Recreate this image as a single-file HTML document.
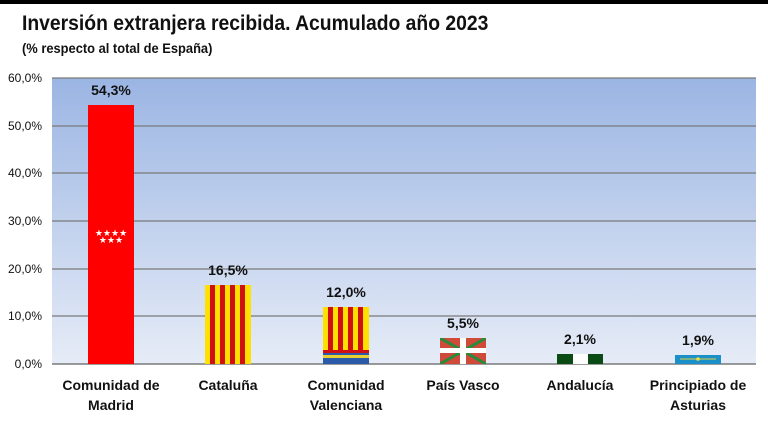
<!DOCTYPE html>
<html><head><meta charset="utf-8"><style>
body{margin:0;width:768px;height:432px;background:#fff;overflow:hidden;font-family:"Liberation Sans",sans-serif;position:relative}
.t{position:absolute;left:22px;top:12px;font-size:21px;font-weight:bold;color:#111;transform:scaleX(0.92);transform-origin:0 0;white-space:nowrap}
.s{position:absolute;left:22px;top:40px;font-size:14px;font-weight:bold;color:#111;transform:scaleX(0.92);transform-origin:0 0;white-space:nowrap}
</style></head><body>
<div style="position:absolute;left:0;top:0;width:768px;height:4px;background:#000"></div>
<div class="t">Inversión extranjera recibida. Acumulado año 2023</div>
<div class="s">(% respecto al total de España)</div>
<svg width="768" height="432" style="position:absolute;left:0;top:0" font-family="Liberation Sans, sans-serif">
<defs>
<linearGradient id="bg" x1="0" y1="0" x2="0" y2="1"><stop offset="0" stop-color="#9bb5e3"/><stop offset="1" stop-color="#e6ecf7"/></linearGradient>
<clipPath id="pv"><rect x="440" y="338" width="46" height="26"/></clipPath>
</defs>
<rect x="52" y="78" width="704" height="286" fill="url(#bg)"/>
<g stroke="#7a7a7a" stroke-width="1.2">
<line x1="52" y1="78" x2="756" y2="78"/><line x1="52" y1="126" x2="756" y2="126"/><line x1="52" y1="173" x2="756" y2="173"/><line x1="52" y1="221" x2="756" y2="221"/><line x1="52" y1="269" x2="756" y2="269"/><line x1="52" y1="316" x2="756" y2="316"/><line x1="52" y1="364" x2="756" y2="364" stroke-width="1.5"/>
</g>
<g font-size="12" fill="#111" text-anchor="end">
<text x="42" y="82">60,0%</text><text x="42" y="130">50,0%</text><text x="42" y="177">40,0%</text><text x="42" y="225">30,0%</text><text x="42" y="273">20,0%</text><text x="42" y="320">10,0%</text><text x="42" y="368">0,0%</text>
</g>
<rect x="88" y="105" width="46" height="259" fill="#ff0000"/>
<text x="111" y="236" font-size="9" fill="#fff" text-anchor="middle">★★★★</text>
<text x="111" y="243" font-size="9" fill="#fff" text-anchor="middle">★★★</text>
<rect x="205" y="285" width="46" height="79" fill="#ffe000"/>
<g fill="#d01010"><rect x="210" y="285" width="5" height="79"/><rect x="220" y="285" width="5" height="79"/><rect x="230" y="285" width="5" height="79"/><rect x="240" y="285" width="5" height="79"/></g>
<rect x="323" y="307" width="46" height="57" fill="#ffe000"/>
<g fill="#d01010"><rect x="328" y="307" width="5" height="43"/><rect x="338" y="307" width="5" height="43"/><rect x="348" y="307" width="5" height="43"/><rect x="358" y="307" width="5" height="43"/></g>
<rect x="323" y="350" width="46" height="3" fill="#d01010"/>
<rect x="323" y="353" width="46" height="11" fill="#2a5aa8"/>
<rect x="323" y="355" width="46" height="3" fill="#e8d030"/>
<g clip-path="url(#pv)">
<rect x="440" y="338" width="46" height="26" fill="#d04a3a"/>
<path d="M440 338 L486 364 M486 338 L440 364" stroke="#2a8a3a" stroke-width="3"/>
<rect x="460" y="338" width="6" height="26" fill="#fff"/>
<rect x="440" y="348" width="46" height="5" fill="#fff"/>
</g>
<rect x="557" y="354" width="46" height="10" fill="#0a4a14"/>
<rect x="573" y="354" width="15" height="10" fill="#fff"/>
<rect x="675" y="355" width="46" height="9" fill="#1a8fc8"/>
<line x1="680" y1="359" x2="716" y2="359" stroke="#d8d040" stroke-width="1"/>
<circle cx="698" cy="359" r="1.8" fill="#f0e040"/>
<g font-size="14" font-weight="bold" fill="#111" text-anchor="middle">
<text x="111" y="95">54,3%</text><text x="228" y="275">16,5%</text><text x="346" y="297">12,0%</text><text x="463" y="328">5,5%</text><text x="580" y="344">2,1%</text><text x="698" y="345">1,9%</text>
<text x="111" y="390">Comunidad de</text><text x="111" y="410">Madrid</text>
<text x="228" y="390">Cataluña</text>
<text x="346" y="390">Comunidad</text><text x="346" y="410">Valenciana</text>
<text x="463" y="390">País Vasco</text>
<text x="580" y="390">Andalucía</text>
<text x="698" y="390">Principiado de</text><text x="698" y="410">Asturias</text>
</g>
</svg>
</body></html>
